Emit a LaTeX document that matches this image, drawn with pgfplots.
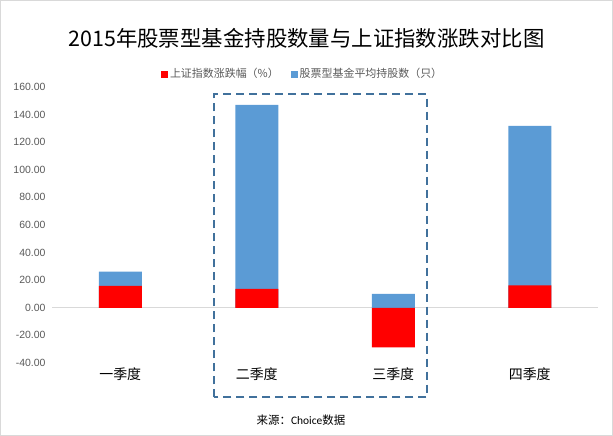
\documentclass[border=0pt]{standalone}
\usepackage{pgfplots}
\pgfplotsset{compat=1.18}
\usepackage{fontspec}
\setmainfont{Noto Sans CJK SC}
\newfontfamily\numfont{Liberation Sans}
\newfontfamily\latinfont{Carlito}
\definecolor{szred}{HTML}{FF0000}
\definecolor{fundblue}{HTML}{5B9BD5}
\definecolor{ticktext}{HTML}{595959}
\definecolor{boxblue}{HTML}{41719C}
\definecolor{zeroline}{HTML}{D9D9D9}

\begin{document}
\begin{tikzpicture}
\draw[draw=zeroline, line width=1bp] (0.5bp,0.5bp) rectangle (612.5bp,435.5bp);
\begin{axis}[
    at={(52bp,73bp)}, anchor=south west,
    scale only axis, width=546bp, height=276bp,
    xmin=-0.5, xmax=3.5, ymin=-40, ymax=160,
    axis line style={draw=none},
    xtick={0,1,2,3},
    xticklabels={一季度,二季度,三季度,四季度},
    xticklabel style={font=\fontsize{14}{16}\selectfont, text=black, yshift=-1bp},
    ytick={-40,-20,0,20,40,60,80,100,120,140,160},
    yticklabel style={font=\numfont\fontsize{10.5}{12}\selectfont, text=ticktext, xshift=-3bp},
    /pgf/number format/assume math mode=true,
    /pgf/number format/.cd, fixed, fixed zerofill, precision=2, /pgfplots/.cd,
    major tick length=0pt,
    extra y ticks={0},
    extra y tick labels={},
    extra y tick style={grid=major, major grid style={draw=zeroline, line width=1bp}},
    legend columns=2,
    reverse legend,
    legend style={at={(0.459,1.047)}, anchor=center, draw=none, fill=none,
        font=\fontsize{11}{13}\selectfont, text=ticktext,
        /tikz/every even column/.append style={column sep=10bp}},
    legend image code/.code={\fill[#1] (0bp,-3.5bp) rectangle (7bp,3.5bp);},
]
% blue: top of stacked bar (fund average holdings stacked on index change)
\addplot[ybar, bar width=43bp, bar shift=0pt, fill=fundblue, draw=none]
    coordinates {(0,26.3) (1,147.0) (2,10.1) (3,131.9)};
\addlegendentry{股票型基金平均持股数（只）}
\addplot[ybar, bar width=43bp, bar shift=0pt, fill=szred, draw=none]
    coordinates {(0,15.9) (1,13.8) (2,-28.7) (3,16.2)};
\addlegendentry{上证指数涨跌幅（\%）}
\end{axis}
\node at (306.5bp,398bp) {\fontsize{21.5}{24}\selectfont 2015年股票型基金持股数量与上证指数涨跌对比图};
\draw[draw=boxblue, line width=2.2bp, dash pattern=on 8bp off 5bp]
    (214bp,38.7bp) rectangle (426.7bp,341.7bp);
\node at (301bp,16bp) {\fontsize{11.5}{13}\selectfont 来源：{\latinfont Choice}数据};
\end{tikzpicture}
\end{document}
